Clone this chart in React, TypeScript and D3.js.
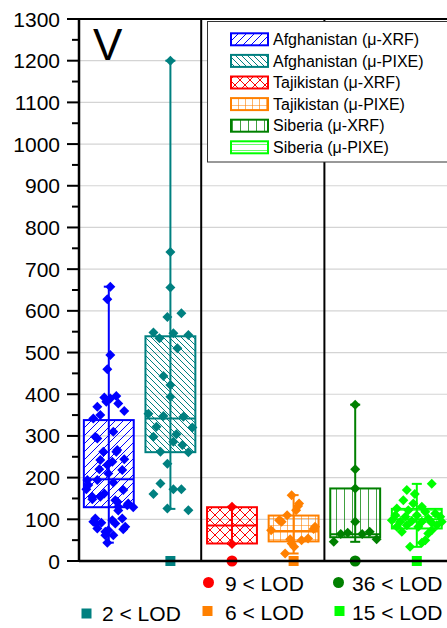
import React from "react";
import * as d3 from "d3";

// ---------- data ----------
const categories = [
  "Afghanistan (μ-XRF)",
  "Afghanistan (μ-PIXE)",
  "Tajikistan (μ-XRF)",
  "Tajikistan (μ-PIXE)",
  "Siberia (μ-XRF)",
  "Siberia (μ-PIXE)",
];
const q1 = [129, 261, 42, 47, 57, 78];
const medians = [196, 342, 85, 72, 64, 100];
const q3 = [338, 539, 129, 109, 174, 125];
const whiskerLow = [44, 125, 41, 18, 46, 34];
const whiskerHigh = [658, 1200, 130, 158, 375, 185];
const lodCounts = [0, 2, 9, 6, 36, 15];
const yTicks = [0, 100, 200, 300, 400, 500, 600, 700, 800, 900, 1000, 1100, 1200, 1300];
const panelLabel = "V";

// [value, jitter (fraction of half box width)]
const afgXrf: [number, number][] = [
  [658, 0.06], [628, -0.06], [494, 0.06], [460, -0.06], [396, 0.3], [390, 0.06], [382, -0.1],
  [378, 0.38], [370, -0.46], [360, 0.62], [350, -0.34], [342, -0.62], [310, 0.18], [298, -0.54],
  [294, -0.46], [266, 0.34], [262, -0.22], [262, 0.3], [244, 0.62], [242, -0.34], [238, 0.14],
  [230, -0.06], [220, -0.38], [218, 0.54], [210, -0.02], [194, -0.86], [194, -0.46], [188, 0.18],
  [182, -0.82], [172, -0.9], [170, 0.58], [162, -0.18], [154, -0.66], [154, -0.34], [148, -0.66],
  [146, 0.26], [142, 0.34], [138, 0.78], [134, 0.74], [129, 0.98], [130, 0.38], [121, 0.38],
  [102, -0.54], [102, 0.54], [98, 0.14], [94, -0.62], [92, -0.3], [90, 0.26], [90, -0.5],
  [82, 0.66], [78, -0.46], [76, 0.58], [74, -0.02], [70, -0.14], [62, 0.18], [62, -0.14],
  [44, -0.06], [392, -0.18],
];
const afgPixe: [number, number][] = [
  [1200, 0], [741, 0], [656, 0], [594, 0.44], [585, -0.12], [548, -0.68], [546, 0.12], [542, 0.72],
  [534, -0.44], [510, 0.28], [444, -0.28], [422, 0], [394, 0], [353, -0.88], [348, -0.28],
  [346, 0.52], [322, -0.56], [320, 0.88], [304, 0.24], [298, -0.68], [286, 0.12], [278, 0.48],
  [262, -0.4], [261, 0.72], [233, -0.12], [186, -0.4], [172, 0.12], [172, 0.44], [161, -0.68],
  [126, -0.12], [122, 0.72],
];
const tajXrf: [number, number][] = [[130, 0], [41, 0]];
const tajPixe: [number, number][] = [
  [158, -0.08], [138, 0.22], [132, 0.18], [122, 0.1], [110, -0.26], [98, -0.58], [94, -0.48],
  [74, -0.9], [77, 0.8], [82, 0.86], [54, 0.58], [50, 0.32], [42, -0.08], [34, 0.02], [18, -0.34],
  [52, -0.14],
];
const sibXrf: [number, number][] = [
  [375, 0], [220, 0], [174, 0], [94, 0], [46, -0.86], [65, -0.58], [68, -0.3], [65, 0.28],
  [70, 0.58], [52, 0.86],
];
const sibPixe: [number, number][] = [
  [185, 0.6], [170, -0.4], [161, -0.08], [146, -0.54], [138, -0.14], [126, -0.8], [122, -0.34],
  [130, 0.2], [118, 0.34], [114, 0.74], [110, -0.86], [106, -0.46], [110, 0], [102, 0.46],
  [106, 0.94], [98, -1.0], [94, -0.66], [96, -0.2], [94, 0.2], [92, 0.6], [94, 1.0], [82, -0.8],
  [86, -0.4], [82, 0.06], [86, 0.8], [70, -0.6], [66, 0.46], [74, 0.6], [50, 0.34], [44, 0.2],
  [34, -0.27],
];
const points = [afgXrf, afgPixe, tajXrf, tajPixe, sibXrf, sibPixe];

// ---------- styles ----------
const colors = ["#0000FF", "#008080", "#FF0000", "#FF8000", "#008000", "#00FF00"];
const patternIds = ["pAfgX", "pAfgP", "pTajX", "pTajP", "pSibX", "pSibP"];
const FONT = "'Liberation Sans', Arial, Helvetica, sans-serif";

const W = 447, H = 628;
const plotLeft = 79, plotRight = 447, plotTop = 19, plotBottom = 561;

export default function App() {
  const x = d3.scaleBand<string>().domain(categories).range([78, 447.6]).paddingInner(0).paddingOuter(0);
  const y = d3.scaleLinear().domain([0, 1300]).range([plotBottom, plotTop]);
  const bw = x.bandwidth();
  const boxW = bw * 0.81;
  const half = boxW / 2;
  const cx = (i: number) => (x(categories[i]) as number) + bw / 2;

  const minorTicks = d3.range(50, 1300, 100);
  const diamond = (px: number, py: number, r = 5) =>
    `M${px},${py - r}L${px + r},${py}L${px},${py + r}L${px - r},${py}Z`;

  const separators = [1.0, 3.0].map((k) => 78 + bw * (k + 1));

  const legendRowY = (i: number) => 39.3 + i * 21.6;

  const bottomItems = [
    { i: 1, shape: "square", mx: 86.5, my: 613.5, tx: 102, ty: 621 },
    { i: 2, shape: "circle", mx: 208.5, my: 582.5, tx: 225, ty: 591 },
    { i: 3, shape: "square", mx: 207.5, my: 611, tx: 225, ty: 620 },
    { i: 4, shape: "circle", mx: 338.5, my: 582.5, tx: 352, ty: 591 },
    { i: 5, shape: "square", mx: 339.5, my: 611, tx: 352, ty: 620 },
  ];

  return (
    <svg width={W} height={H} style={{ position: "absolute", left: 0, top: 0, background: "#fff" }} fontFamily={FONT}>
      <defs>
        <pattern id="pAfgX" patternUnits="userSpaceOnUse" width={8} height={8}>
          <path d="M-2,2L2,-2M0,8L8,0M6,10L10,6" stroke={colors[0]} strokeWidth={1} />
        </pattern>
        <pattern id="pAfgP" patternUnits="userSpaceOnUse" width={6} height={6}>
          <path d="M0,0L6,6M-1,5L1,7M5,-1L7,1" stroke={colors[1]} strokeWidth={1} />
        </pattern>
        <pattern id="pTajX" patternUnits="userSpaceOnUse" width={10} height={10}>
          <path d="M0,0L10,10M10,0L0,10" stroke={colors[2]} strokeWidth={1} />
        </pattern>
        <pattern id="pTajP" patternUnits="userSpaceOnUse" width={7} height={7}>
          <path d="M0,0L7,0M0,0L0,7" stroke={colors[3]} strokeWidth={1.2} />
        </pattern>
        <pattern id="pSibX" patternUnits="userSpaceOnUse" width={8} height={8}>
          <path d="M0,0L0,8" stroke={colors[4]} strokeWidth={1.5} />
        </pattern>
        <pattern id="pSibP" patternUnits="userSpaceOnUse" width={6} height={6}>
          <path d="M0,0L6,0" stroke={colors[5]} strokeWidth={1.2} />
        </pattern>
      </defs>

      {/* grid */}
      {yTicks.filter((t) => t > 0 && t < 1300).map((t) => (
        <line key={"g" + t} x1={plotLeft} x2={plotRight} y1={y(t)} y2={y(t)} stroke="#d4d4d4" strokeWidth={1.2} />
      ))}

      {/* separators */}
      {separators.map((sx, k) => (
        <line key={"s" + k} x1={sx} x2={sx} y1={plotTop} y2={plotBottom} stroke="#000" strokeWidth={2} />
      ))}

      {/* legend box */}
      <rect x={207.5} y={21.5} width={260} height={140.5} fill="#fff" stroke="#333" strokeWidth={1} />
      {categories.map((c, i) => (
        <g key={"lg" + i}>
          <rect x={231} y={legendRowY(i) - 6} width={37} height={12} fill={`url(#${patternIds[i]})`} stroke={colors[i]} strokeWidth={2} />
          <text x={273} y={legendRowY(i)} dy="0.36em" fontSize={16} fill="#000">{c}</text>
        </g>
      ))}

      {/* boxes */}
      {categories.map((c, i) => {
        const X = cx(i);
        return (
          <g key={"b" + i}>
            <line x1={X} x2={X} y1={y(whiskerLow[i])} y2={y(whiskerHigh[i])} stroke={colors[i]} strokeWidth={2} />
            <line x1={X - 5} x2={X + 5} y1={y(whiskerLow[i])} y2={y(whiskerLow[i])} stroke={colors[i]} strokeWidth={2} />
            <line x1={X - 5} x2={X + 5} y1={y(whiskerHigh[i])} y2={y(whiskerHigh[i])} stroke={colors[i]} strokeWidth={2} />
            <rect x={X - half} y={y(q3[i])} width={boxW} height={y(q1[i]) - y(q3[i])} fill={`url(#${patternIds[i]})`} stroke={colors[i]} strokeWidth={2} />
            <line x1={X - half} x2={X + half} y1={y(medians[i])} y2={y(medians[i])} stroke={colors[i]} strokeWidth={2} />
          </g>
        );
      })}

      {/* points */}
      {points.map((arr, i) =>
        arr.map(([v, j], k) => (
          <path key={`p${i}-${k}`} d={diamond(cx(i) + j * half, y(v))} fill={colors[i]} />
        ))
      )}

      {/* LOD markers on axis */}
      {categories.map((c, i) => {
        if (!lodCounts[i]) return null;
        const X = cx(i);
        return i % 2 === 0 ? (
          <circle key={"m" + i} cx={X} cy={plotBottom} r={5.5} fill={colors[i]} />
        ) : (
          <rect key={"m" + i} x={X - 5} y={plotBottom - 5} width={10} height={10} fill={colors[i]} />
        );
      })}

      {/* axes frame */}
      <line x1={plotLeft} x2={plotRight} y1={plotTop} y2={plotTop} stroke="#000" strokeWidth={2} />
      <line x1={plotLeft} x2={plotLeft} y1={plotTop - 1} y2={plotBottom + 1} stroke="#000" strokeWidth={2.5} />
      <line x1={plotLeft} x2={plotRight} y1={plotBottom} y2={plotBottom} stroke="#000" strokeWidth={2.5} />

      {/* y ticks */}
      {yTicks.map((t) => (
        <g key={"t" + t}>
          <line x1={plotLeft - 12} x2={plotLeft} y1={y(t)} y2={y(t)} stroke="#000" strokeWidth={2} />
          <text x={60} y={y(t)} dy="0.36em" textAnchor="end" fontSize={21} fill="#000">{t}</text>
        </g>
      ))}
      {minorTicks.map((t) => (
        <line key={"mt" + t} x1={plotLeft - 7} x2={plotLeft} y1={y(t)} y2={y(t)} stroke="#000" strokeWidth={2} />
      ))}

      {/* panel label */}
      <text x={93} y={60} fontSize={44} fill="#000">{panelLabel}</text>

      {/* bottom LOD legend */}
      {bottomItems.map((b) => (
        <g key={"bl" + b.i}>
          {b.shape === "circle" ? (
            <circle cx={b.mx} cy={b.my} r={5.5} fill={colors[b.i]} />
          ) : (
            <rect x={b.mx - 5} y={b.my - 5} width={10} height={10} fill={colors[b.i]} />
          )}
          <text x={b.tx} y={b.ty} fontSize={21} fill="#000">{`${lodCounts[b.i]} < LOD`}</text>
        </g>
      ))}
    </svg>
  );
}
